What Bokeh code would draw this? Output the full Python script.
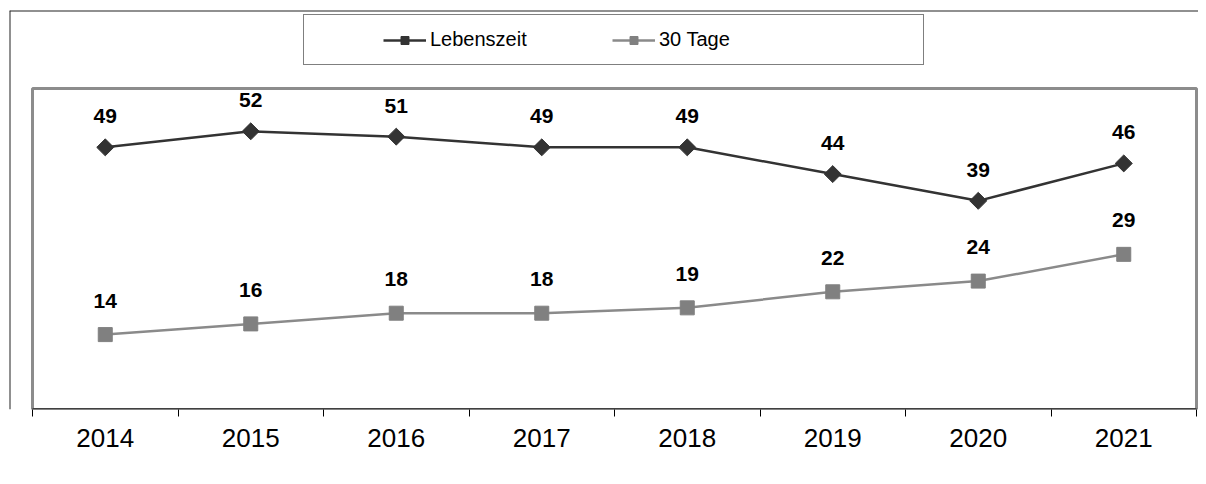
import math
from bokeh.plotting import figure
from bokeh.models import (ColumnDataSource, Range1d, FixedTicker, LabelSet, Legend,
                          LegendItem, Span)
from bokeh.core.properties import value
from bokeh.embed import file_html
from bokeh.resources import INLINE

years = ["2014", "2015", "2016", "2017", "2018", "2019", "2020", "2021"]
lebenszeit = [49, 52, 51, 49, 49, 44, 39, 46]
tage30 = [14, 16, 18, 18, 19, 22, 24, 29]
series_names = ["Lebenszeit", "30 Tage"]
y_max = 60

n = len(years)
xs = [i + 0.5 for i in range(n)]

src_l = ColumnDataSource(dict(x=xs, y=lebenszeit, t=[str(v) for v in lebenszeit]))
src_t = ColumnDataSource(dict(x=xs, y=tage30, t=[str(v) for v in tage30]))

# layout (pixels): frame spans the whole chart area; plot area is drawn inside it
W, H = 1198, 476
FL, FT, FR, FB = 9, 10, 1198, 409          # frame edges
PL, PR, PT = 32, 1196, 88                  # plot-area edges (x=0, x=n, y=y_max)
xpx = (PR - PL) / n
ypx = (FB - PT) / y_max
x_start = -(PL - FL) / xpx
x_end = n + (FR - PR) / xpx
y_end = y_max + (PT - FT) / ypx

p = figure(width=W, height=H, output_backend="svg", toolbar_location=None,
           x_range=Range1d(x_start, x_end), y_range=Range1d(0, y_end),
           y_axis_location=None,
           min_border_left=FL, min_border_right=W - FR, min_border_top=FT,
           min_border_bottom=H - FB)
p.xgrid.visible = False
p.ygrid.visible = False
p.outline_line_color = None
p.background_fill_color = "white"
p.border_fill_color = "white"

# outer chart-area border (top and left); half of each line falls inside the frame
p.add_layout(Span(location=x_start, dimension="height",
                  line_color="#222222", line_width=2))
p.add_layout(Span(location=y_end, dimension="width",
                  line_color="#222222", line_width=2))

# plot area frame (grey) and dark baseline
p.quad(left=[0], right=[n], bottom=[0], top=[y_max], fill_alpha=0,
       line_color="#8c8c8c", line_width=3)
p.segment(x0=[0], x1=[n], y0=[0], y1=[0], line_color="#404040", line_width=3)

xa = p.xaxis[0]
xa.ticker = FixedTicker(ticks=xs, minor_ticks=list(range(n + 1)))
xa.major_label_overrides = {x: y for x, y in zip(xs, years)}
xa.major_tick_line_color = None
xa.major_tick_out = 7
xa.major_tick_in = 0
xa.minor_tick_line_color = "black"
xa.minor_tick_out = 7
xa.minor_tick_in = 0
xa.axis_line_color = None
xa.major_label_text_font = "Liberation Sans"
xa.major_label_text_font_size = "26px"
xa.major_label_text_color = "black"
xa.major_label_standoff = 12

# lines and markers
l1 = p.line("x", "y", source=src_l, line_color="#333333", line_width=2.5)
m1 = p.scatter("x", "y", source=src_l, marker="square", size=12, angle=math.pi / 4,
               fill_color="#333333", line_color="#333333")
l2 = p.line("x", "y", source=src_t, line_color="#8a8a8a", line_width=2.5)
m2 = p.scatter("x", "y", source=src_t, marker="square", size=14,
               fill_color="#808080", line_color="#808080")

lab_kw = dict(text_align="center", text_baseline="middle",
              text_font=value("Liberation Sans"), text_font_style="bold",
              text_font_size="21px", text_color="black",
              background_fill_color="white")
p.add_layout(LabelSet(x="x", y="y", text="t", source=src_l, y_offset=31, **lab_kw))
p.add_layout(LabelSet(x="x", y="y", text="t", source=src_t, y_offset=34, **lab_kw))

# legend: boxed legend holding the first entry, second entry overlaid in the same box
leg_kw = dict(orientation="horizontal", glyph_width=43, glyph_height=20,
              label_height=22, label_standoff=4, margin=0,
              label_text_font="Liberation Sans", label_text_font_size="20px",
              label_text_color="black")
legend_a = Legend(items=[LegendItem(label=series_names[0], renderers=[l1, m1])],
                  location=(303 - FL, FB - 65),
                  title=" ", title_location="left", title_standoff=43,
                  title_text_font="Liberation Sans", title_text_font_size="20px",
                  label_width=480, padding=13,
                  border_line_color="black", border_line_width=1,
                  background_fill_color="white", background_fill_alpha=1, **leg_kw)
legend_b = Legend(items=[LegendItem(label=series_names[1], renderers=[l2, m2])],
                  location=(612 - FL, FB - 51), label_width=60, padding=0,
                  border_line_alpha=0, background_fill_alpha=0, **leg_kw)
p.add_layout(legend_a)
p.add_layout(legend_b)

open("out.html", "w").write(file_html(p, INLINE))
